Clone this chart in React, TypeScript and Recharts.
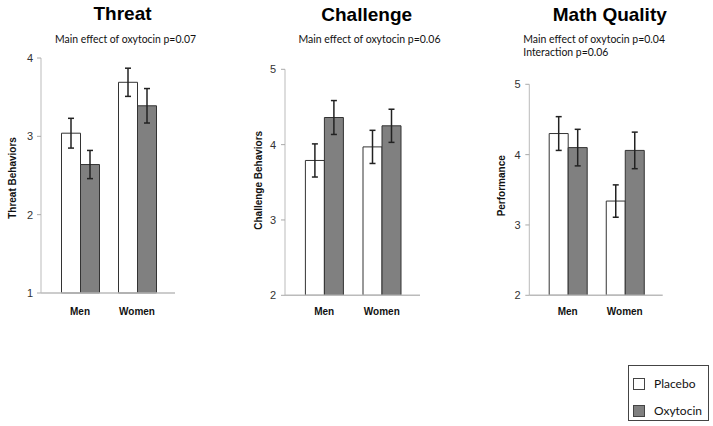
import React from 'react';
import { BarChart, Bar, XAxis, YAxis, ErrorBar, Legend } from 'recharts';

const categories = ['Men', 'Women'];
const seriesNames = ['Placebo', 'Oxytocin'];

const threatPlacebo = [3.04, 3.69];
const threatPlaceboErr = [0.19, 0.18];
const threatOxytocin = [2.64, 3.39];
const threatOxytocinErr = [0.18, 0.22];

const challengePlacebo = [3.79, 3.97];
const challengePlaceboErr = [0.22, 0.22];
const challengeOxytocin = [4.36, 4.25];
const challengeOxytocinErr = [0.225, 0.22];

const mathPlacebo = [4.3, 3.34];
const mathPlaceboErr = [0.24, 0.23];
const mathOxytocin = [4.1, 4.06];
const mathOxytocinErr = [0.26, 0.26];

const threatTicks = [1, 2, 3, 4];
const challengeTicks = [2, 3, 4, 5];
const mathTicks = [2, 3, 4, 5];

const titles = ['Threat', 'Challenge', 'Math Quality'];
const subtitles = [
  'Main effect of oxytocin p=0.07',
  'Main effect of oxytocin p=0.06',
  'Main effect of oxytocin p=0.04',
  'Interaction p=0.06',
];
const yTitles = ['Threat Behaviors', 'Challenge Behaviors', 'Performance'];

const buildRows = (p: number[], pe: number[], o: number[], oe: number[]) =>
  categories.map((c, i) => ({
    category: c,
    placebo: p[i],
    placeboErr: pe[i],
    oxytocin: o[i],
    oxytocinErr: oe[i],
  }));

const FONT = '"Liberation Sans", Arial, sans-serif';
const SUBFONT = 'Lato, "Open Sans", sans-serif';

const yTitleContent = (text: string, off: number, dy: number) => (props: any) => {
  const vb = props.viewBox || { x: 0, y: 0, width: 0, height: 0 };
  const cx = vb.x + vb.width - off;
  const cy = vb.y + vb.height / 2 + dy;
  return (
    <text
      x={cx}
      y={cy}
      transform={`rotate(-90 ${cx} ${cy})`}
      textAnchor="middle"
      fontFamily={FONT}
      fontWeight="bold"
      fontSize={10}
      fill="#111"
    >
      {text}
    </text>
  );
};

const legendContent = (props: any) => {
  const payload = [...(props.payload || [])].sort(
    (a: any, b: any) => seriesNames.indexOf(a.value) - seriesNames.indexOf(b.value)
  );
  return (
    <div
      style={{
        position: 'relative',
        width: 81,
        height: 56,
        border: '1px solid #444',
        boxSizing: 'border-box',
        background: '#fff',
        fontFamily: SUBFONT,
        fontSize: 12,
        color: '#111',
      }}
    >
      {payload.map((entry: any, i: number) => (
        <div key={entry.value} style={{ position: 'absolute', left: 4, top: 11 + i * 27, height: 14, display: 'flex', alignItems: 'center' }}>
          <div
            style={{
              width: 12,
              height: 12,
              background: entry.color,
              border: '1px solid #444',
              boxSizing: 'border-box',
            }}
          />
          <span style={{ marginLeft: 9, lineHeight: '14px' }}>{entry.value}</span>
        </div>
      ))}
    </div>
  );
};

type PanelProps = {
  rows: any[];
  left: number;
  width: number;
  height: number;
  yAxisWidth: number;
  top: number;
  right: number;
  bottom: number;
  xAxisHeight: number;
  domain: [number, number];
  ticks: number[];
  padLeft: number;
  padRight: number;
  xTickMargin: number;
  yTickMargin: number;
  yTitle: string;
  yTitleOff: number;
  yTitleDy: number;
  legend?: boolean;
};

const Panel = (p: PanelProps) => (
  <div style={{ position: 'absolute', left: p.left, top: 0 }}>
    <BarChart
      width={p.width}
      height={p.height}
      data={p.rows}
      margin={{ top: p.top, right: p.right, bottom: p.bottom, left: 0 }}
      barGap={0}
    >
      <XAxis
        dataKey="category"
        height={p.xAxisHeight}
        padding={{ left: p.padLeft, right: p.padRight }}
        axisLine={{ stroke: '#bbb', strokeWidth: 1.5 }}
        tickLine={false}
        tickSize={0}
        tickMargin={p.xTickMargin}
        tick={{ fontSize: 10, fontWeight: 'bold', fill: '#111', fontFamily: FONT }}
      />
      <YAxis
        width={p.yAxisWidth}
        type="number"
        domain={p.domain}
        ticks={p.ticks}
        interval={0}
        axisLine={{ stroke: '#bbb' }}
        tickLine={{ stroke: '#aaa' }}
        tickSize={4}
        tickMargin={p.yTickMargin}
        tick={{ fontSize: 11, fill: '#333', fontFamily: FONT }}
        label={{ content: yTitleContent(p.yTitle, p.yTitleOff, p.yTitleDy) }}
      />
      <Bar dataKey="placebo" name={seriesNames[0]} fill="#ffffff" stroke="#333" strokeWidth={1} barSize={19} isAnimationActive={false}>
        <ErrorBar dataKey="placeboErr" width={3} stroke="#222" strokeWidth={1.5} />
      </Bar>
      <Bar dataKey="oxytocin" name={seriesNames[1]} fill="#808080" stroke="#333" strokeWidth={1} barSize={19} isAnimationActive={false}>
        <ErrorBar dataKey="oxytocinErr" width={3} stroke="#222" strokeWidth={1.5} />
      </Bar>
      {p.legend ? (
        <Legend
          layout="vertical"
          align="center"
          verticalAlign="middle"
          content={legendContent}
          wrapperStyle={{ left: 148, top: 365, width: 81, height: 56 }}
        />
      ) : null}
    </BarChart>
  </div>
);

export default function App() {
  return (
    <div
      style={{
        position: 'absolute',
        left: 0,
        top: 0,
        width: 713,
        height: 426,
        background: '#fff',
        fontFamily: FONT,
        overflow: 'hidden',
      }}
    >
      <Panel
        rows={buildRows(threatPlacebo, threatPlaceboErr, threatOxytocin, threatOxytocinErr)}
        left={0}
        width={240}
        height={330}
        yAxisWidth={41}
        top={58}
        right={65}
        bottom={0}
        xAxisHeight={37}
        domain={[1, 4]}
        ticks={threatTicks}
        padLeft={10.5}
        padRight={9.5}
        xTickMargin={15}
        yTickMargin={4}
        yTitle={yTitles[0]}
        yTitleOff={25.3}
        yTitleDy={2.5}
      />
      <Panel
        rows={buildRows(challengePlacebo, challengePlaceboErr, challengeOxytocin, challengeOxytocinErr)}
        left={240}
        width={240}
        height={330}
        yAxisWidth={45}
        top={69.3}
        right={60}
        bottom={0}
        xAxisHeight={34.7}
        domain={[2, 5]}
        ticks={challengeTicks}
        padLeft={10.4}
        padRight={9.4}
        xTickMargin={12.7}
        yTickMargin={5}
        yTitle={yTitles[1]}
        yTitleOff={23.3}
        yTitleDy={-2}
      />
      <Panel
        rows={buildRows(mathPlacebo, mathPlaceboErr, mathOxytocin, mathOxytocinErr)}
        left={480}
        width={233}
        height={426}
        yAxisWidth={49.3}
        top={84.3}
        right={50.3}
        bottom={96}
        xAxisHeight={34.7}
        domain={[2, 5]}
        ticks={mathTicks}
        padLeft={9.9}
        padRight={9.4}
        xTickMargin={12.7}
        yTickMargin={4.6}
        yTitle={yTitles[2]}
        yTitleOff={24.3}
        yTitleDy={-4}
        legend
      />
      <svg
        width={713}
        height={426}
        style={{ position: 'absolute', left: 0, top: 0, pointerEvents: 'none' }}
      >
        <g fontFamily={FONT} fontWeight="bold" fontSize={19} fill="#000" textAnchor="middle">
          <text x={122.5} y={20}>{titles[0]}</text>
          <text x={366.7} y={20.5}>{titles[1]}</text>
          <text x={609.8} y={21}>{titles[2]}</text>
        </g>
        <g fontFamily={SUBFONT} fontSize={11} fill="#111">
          <text x={125.5} y={43.3} textAnchor="middle" textLength={141} lengthAdjust="spacingAndGlyphs">{subtitles[0]}</text>
          <text x={369.5} y={42.7} textAnchor="middle" textLength={142} lengthAdjust="spacingAndGlyphs">{subtitles[1]}</text>
          <text x={523.3} y={42.7} textLength={141.7} lengthAdjust="spacingAndGlyphs">{subtitles[2]}</text>
          <text x={523.3} y={56} textLength={85} lengthAdjust="spacingAndGlyphs">{subtitles[3]}</text>
        </g>
      </svg>
    </div>
  );
}
